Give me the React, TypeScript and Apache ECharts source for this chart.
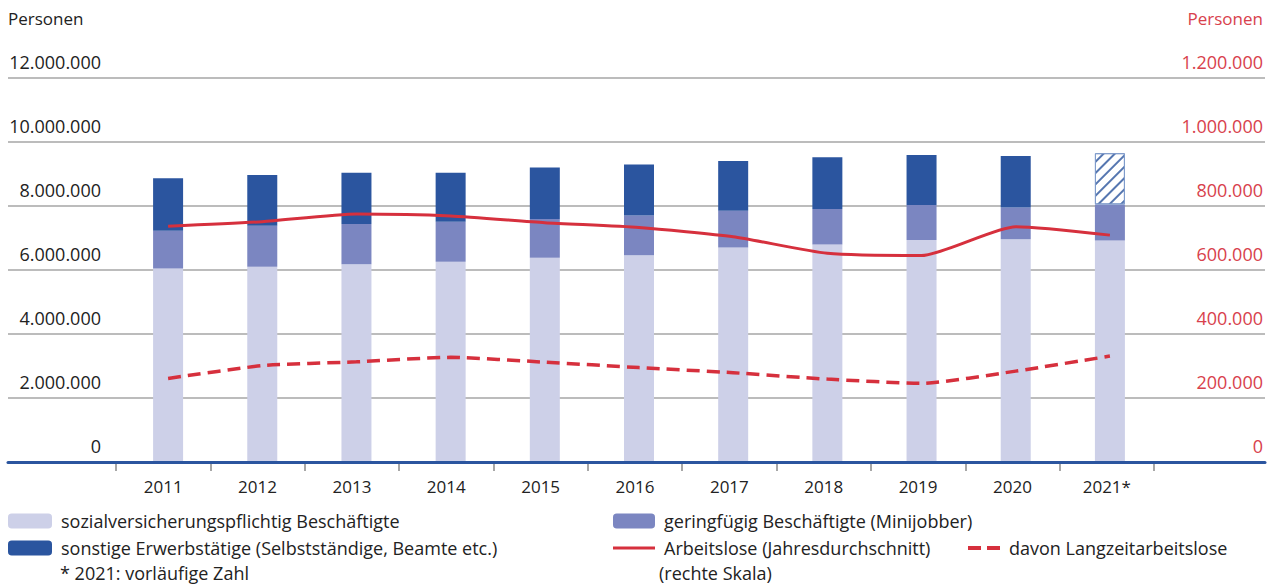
import React, { useEffect, useRef } from 'react';
import * as echarts from 'echarts';

const years = ['2011', '2012', '2013', '2014', '2015', '2016', '2017', '2018', '2019', '2020', '2021*'];
const sozial = [6050000, 6100000, 6180000, 6260000, 6380000, 6460000, 6700000, 6800000, 6940000, 6960000, 6920000];
const minijob = [1180000, 1280000, 1260000, 1250000, 1210000, 1240000, 1150000, 1110000, 1090000, 990000, 1130000];
const sonstige = [1640000, 1590000, 1600000, 1530000, 1610000, 1600000, 1560000, 1610000, 1560000, 1610000, 1600000];
const arbeitslose = [737000, 751000, 775000, 769000, 748000, 733000, 704000, 652000, 645000, 735000, 709000];
const langzeit = [261000, 301000, 313000, 327000, 312000, 295000, 279000, 259000, 246000, 284000, 331000];

const provisionalIndex = 10;

const NAME_S = 'sozialversicherungspflichtig Beschäftigte';
const NAME_O = 'sonstige Erwerbstätige (Selbstständige, Beamte etc.)';
const NAME_M = 'geringfügig Beschäftigte (Minijobber)';
const NAME_A = 'Arbeitslose (Jahresdurchschnitt)';
const NAME_L = 'davon Langzeitarbeitslose';

const C_LIGHT = '#cdd0e8';
const C_MID = '#7b86c1';
const C_DARK = '#2b559f';
const C_RED = '#d6303d';
const C_RED_TXT = '#d8414c';
const C_GRID = '#a6a6a6';
const FONT = "'Open Sans', sans-serif";
const LFONT = "'Open Sans', sans-serif";

const fmt = (v: number) => String(v).replace(/\B(?=(\d{3})+(?!\d))/g, '.');

export default function App() {
  const ref = useRef<HTMLDivElement>(null);
  useEffect(() => {
    document.body.style.margin = '0';
    const chart = echarts.init(ref.current!, null, { renderer: 'svg' });
    const legendCommon = {
      padding: 0,
      itemGap: 0,
      selectedMode: false,
      textStyle: { fontSize: 18, color: '#222', fontFamily: LFONT, padding: [0, 0, 0, 4] },
    };
    const option: any = {
      animation: false,
      backgroundColor: '#fff',
      grid: [
        { left: 8, right: 14, top: 78, height: 384 },
        { left: 116, right: 125, top: 78, height: 384 },
        { left: 121, right: 122, top: 78, height: 384 },
      ],
      xAxis: [
        {
          gridIndex: 0, type: 'category', data: years,
          axisLine: { show: true, lineStyle: { color: C_DARK, width: 3 } },
          axisTick: { show: false }, axisLabel: { show: false }, splitLine: { show: false },
          z: 5,
        },
        {
          gridIndex: 1, type: 'category', data: years, boundaryGap: true,
          axisLine: { show: false },
          axisTick: { show: true, length: 9, interval: 0, lineStyle: { color: '#8a8a8a', width: 1.5 } },
          axisLabel: { show: true, interval: 0, margin: 16, fontSize: 17, color: '#222', fontFamily: FONT },
          splitLine: { show: false },
        },
        {
          gridIndex: 2, type: 'category', data: years, boundaryGap: true,
          show: false,
        },
      ],
      yAxis: [
        {
          gridIndex: 0, type: 'value', position: 'left', min: 0, max: 12000000, interval: 2000000,
          name: 'Personen', nameLocation: 'end', nameGap: 60,
          nameTextStyle: { align: 'left', verticalAlign: 'middle', fontSize: 17, color: '#222', fontFamily: FONT },
          axisLine: { show: false }, axisTick: { show: false },
          axisLabel: {
            inside: true, align: 'right', verticalAlign: 'bottom', margin: 93, padding: [0, 0, 7, 0],
            fontSize: 18, color: '#222', fontFamily: FONT, formatter: (v: number) => fmt(v),
          },
          splitLine: { show: true, lineStyle: { color: C_GRID, width: 1.5 } },
        },
        {
          gridIndex: 0, type: 'value', position: 'right', min: 0, max: 1200000, interval: 200000,
          name: 'Personen', nameLocation: 'end', nameGap: 60,
          nameTextStyle: { align: 'right', verticalAlign: 'middle', fontSize: 17, color: C_RED_TXT, fontFamily: FONT, padding: [0, 2, 0, 0] },
          axisLine: { show: false }, axisTick: { show: false },
          axisLabel: {
            inside: true, align: 'right', verticalAlign: 'bottom', margin: 2, padding: [0, 0, 7, 0],
            fontSize: 18, color: C_RED_TXT, fontFamily: FONT, formatter: (v: number) => fmt(v),
          },
          splitLine: { show: false },
        },
        { gridIndex: 1, type: 'value', min: 0, max: 1, show: false },
        { gridIndex: 2, type: 'value', min: 0, max: 12000000, show: false },
        { gridIndex: 2, type: 'value', min: 0, max: 1200000, show: false },
      ],
      legend: [
        { ...legendCommon, data: [NAME_S], left: 8, top: 512, itemWidth: 44, itemHeight: 15 },
        { ...legendCommon, data: [NAME_O], left: 8, top: 539, itemWidth: 44, itemHeight: 15 },
        { ...legendCommon, data: [NAME_M], left: 613, top: 512, itemWidth: 42, itemHeight: 15 },
        {
          ...legendCommon,
          data: [{ name: NAME_A, icon: 'rect' }],
          left: 613, top: 539, itemWidth: 42, itemHeight: 3,
        },
        {
          ...legendCommon,
          data: [{ name: NAME_L, icon: 'path://M0,0h13v4h-13z M19,0h13v4h-13z' }],
          left: 968, top: 539, itemWidth: 32, itemHeight: 4,
        },
      ],
      graphic: [
        { type: 'text', left: 60, top: 564, style: { text: '* 2021: vorläufige Zahl', fontSize: 18, fill: '#222', fontFamily: LFONT } },
        { type: 'text', left: 659, top: 564, style: { text: '(rechte Skala)', fontSize: 18, fill: '#222', fontFamily: LFONT } },
      ],
      series: [
        {
          name: NAME_S, type: 'bar', stack: 'emp', xAxisIndex: 2, yAxisIndex: 3, barWidth: 30,
          itemStyle: { color: C_LIGHT }, data: sozial,
        },
        {
          name: NAME_M, type: 'bar', stack: 'emp', xAxisIndex: 2, yAxisIndex: 3, barWidth: 30,
          itemStyle: { color: C_MID }, data: minijob,
        },
        {
          name: NAME_O, type: 'bar', stack: 'emp', xAxisIndex: 2, yAxisIndex: 3, barWidth: 30,
          itemStyle: { color: C_DARK },
          data: sonstige.map((v, i) =>
            i === provisionalIndex
              ? {
                  value: v,
                  itemStyle: {
                    color: '#ffffff',
                    borderColor: '#7f9bcb',
                    borderWidth: 1,
                    decal: {
                      symbol: 'rect',
                      symbolSize: 1,
                      color: '#5576b0',
                      dashArrayX: [1, 0],
                      dashArrayY: [1.5, 6],
                      rotation: -Math.PI / 4,
                    },
                  },
                }
              : v
          ),
        },
        {
          name: NAME_A, type: 'line', xAxisIndex: 2, yAxisIndex: 4, symbol: 'none', smooth: 0.2,
          lineStyle: { color: C_RED, width: 3 }, itemStyle: { color: C_RED }, data: arbeitslose, z: 4,
        },
        {
          name: NAME_L, type: 'line', xAxisIndex: 2, yAxisIndex: 4, symbol: 'none', smooth: 0.2,
          lineStyle: { color: C_RED, width: 3.5, type: [13, 7] }, itemStyle: { color: C_RED }, data: langzeit, z: 4,
        },
      ],
    };
    chart.setOption(option);
    return () => chart.dispose();
  }, []);
  return <div ref={ref} style={{ width: 1279, height: 584 }} />;
}
